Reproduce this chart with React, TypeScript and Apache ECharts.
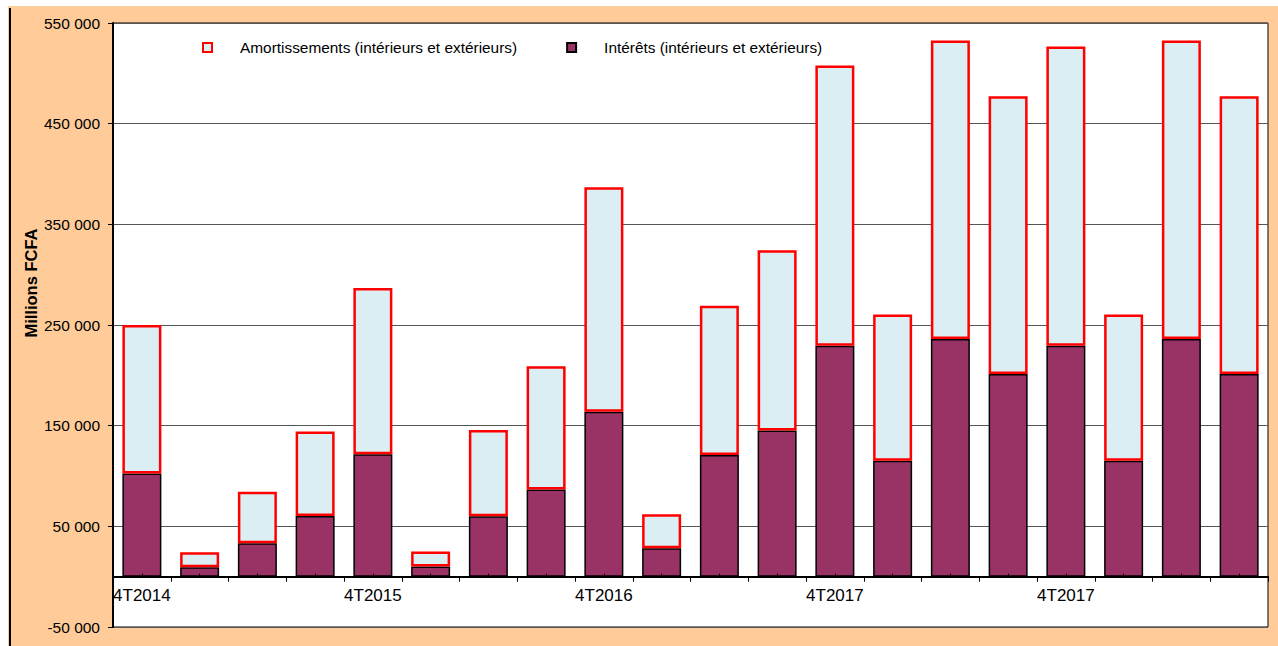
import React, { useEffect, useRef } from "react";
import * as echarts from "echarts";

const categories = [
  "4T2014", "1T2015", "2T2015", "3T2015",
  "4T2015", "1T2016", "2T2016", "3T2016",
  "4T2016", "1T2017", "2T2017", "3T2017",
  "4T2017", "1T2018", "2T2018", "3T2018",
  "4T2017", "1T2019", "2T2019", "3T2019",
];
const shownLabels = [0, 4, 8, 12, 16];

const interets = [
  102600, 9300, 33300, 60300, 121500, 10000, 60000, 86700, 163900, 28300,
  120900, 145300, 229400, 115200, 236100, 201300, 229400, 115200, 236100, 201300,
];
const amortissements = [
  147400, 15000, 51000, 84000, 165300, 15000, 85700, 122200, 222900, 33700,
  148300, 178900, 278300, 145300, 296500, 275900, 297200, 145300, 296500, 275900,
];

const seriesNames = [
  "Amortissements (intérieurs et extérieurs)",
  "Intérêts (intérieurs et extérieurs)",
];
const yAxisTitle = "Millions FCFA";
const yMin = -50000;
const yMax = 550000;

const fmt = (v: number) => String(v).replace(/\B(?=(\d{3})+(?!\d))/g, " ");
const FONT = "Liberation Sans, Arial, sans-serif";

export default function App() {
  const ref = useRef<HTMLDivElement>(null);
  useEffect(() => {
    if (!ref.current) return;
    const chart = echarts.init(ref.current, null, { renderer: "svg" });
    const H = 640;
    const gridTop = 17;
    const gridBottom = 19;
    const plotH = H - gridTop - gridBottom;
    // shift the category axis from the bottom of the grid up to the value 0
    const zeroOffset = -(plotH * (0 - yMin)) / (yMax - yMin);
    chart.setOption({
      animation: false,
      backgroundColor: "#FFCC99",
      textStyle: { fontFamily: FONT },
      grid: {
        left: 105,
        right: 10,
        top: gridTop,
        bottom: gridBottom,
        show: true,
        backgroundColor: "#ffffff",
        borderColor: "#000000",
        borderWidth: 1,
        outerBoundsMode: "none",
        containLabel: false,
      },
      legend: {
        left: 189,
        top: 29,
        itemWidth: 9,
        itemHeight: 9,
        itemGap: 49,
        icon: "rect",
        textStyle: {
          fontSize: 15.4,
          color: "#000",
          fontFamily: FONT,
          padding: [0, 0, 0, 23],
        },
        data: [seriesNames[0], seriesNames[1]],
      },
      graphic: [
        {
          type: "rect",
          left: 1,
          top: 2,
          shape: { width: 2, height: 640 },
          style: { fill: "#000" },
        },
        {
          type: "text",
          x: 23,
          y: 277,
          rotation: Math.PI / 2,
          style: {
            text: yAxisTitle,
            fontSize: 16.5,
            fontWeight: "bold",
            fontFamily: FONT,
            fill: "#000",
            align: "center",
            verticalAlign: "middle",
          },
        },
      ],
      xAxis: [
        {
          type: "category",
          data: categories,
          boundaryGap: true,
          position: "bottom",
          offset: zeroOffset,
          axisLine: { onZero: false, lineStyle: { color: "#000", width: 2 } },
          axisTick: { show: true, interval: 0, length: 5, lineStyle: { color: "#000" } },
          axisLabel: {
            interval: (i: number) => shownLabels.includes(i),
            fontSize: 17,
            color: "#000",
            margin: 10,
            fontFamily: FONT,
          },
          splitLine: { show: false },
        },
        {
          type: "category",
          data: categories,
          boundaryGap: true,
          position: "bottom",
          offset: zeroOffset,
          z: 10,
          axisLine: { show: false, onZero: false },
          axisTick: {
            show: true,
            inside: true,
            alignWithLabel: true,
            interval: 0,
            length: 3,
            lineStyle: { color: "#000" },
          },
          axisLabel: { show: false },
          splitLine: { show: false },
        },
      ],
      yAxis: {
        type: "value",
        min: yMin,
        max: yMax,
        interval: 100000,
        axisLine: { show: true, lineStyle: { color: "#000", width: 2 } },
        axisTick: { show: true, length: 5, lineStyle: { color: "#000" } },
        axisLabel: { formatter: fmt, fontSize: 15.5, color: "#000", margin: 13, fontFamily: FONT },
        splitLine: { show: true, lineStyle: { color: "#555", width: 1 } },
      },
      series: [
        {
          name: seriesNames[1],
          type: "bar",
          stack: "total",
          data: interets,
          barWidth: 39,
          itemStyle: { color: "#993366", borderColor: "#000", borderWidth: 1.5 },
        },
        {
          name: seriesNames[0],
          type: "bar",
          stack: "total",
          data: amortissements,
          barWidth: 39,
          itemStyle: { color: "#DAEEF3", borderColor: "#FF0000", borderWidth: 2.5 },
        },
      ],
    });
    return () => chart.dispose();
  }, []);
  return (
    <div
      ref={ref}
      style={{ position: "absolute", left: 8, top: 6, width: 1270, height: 640 }}
    />
  );
}
